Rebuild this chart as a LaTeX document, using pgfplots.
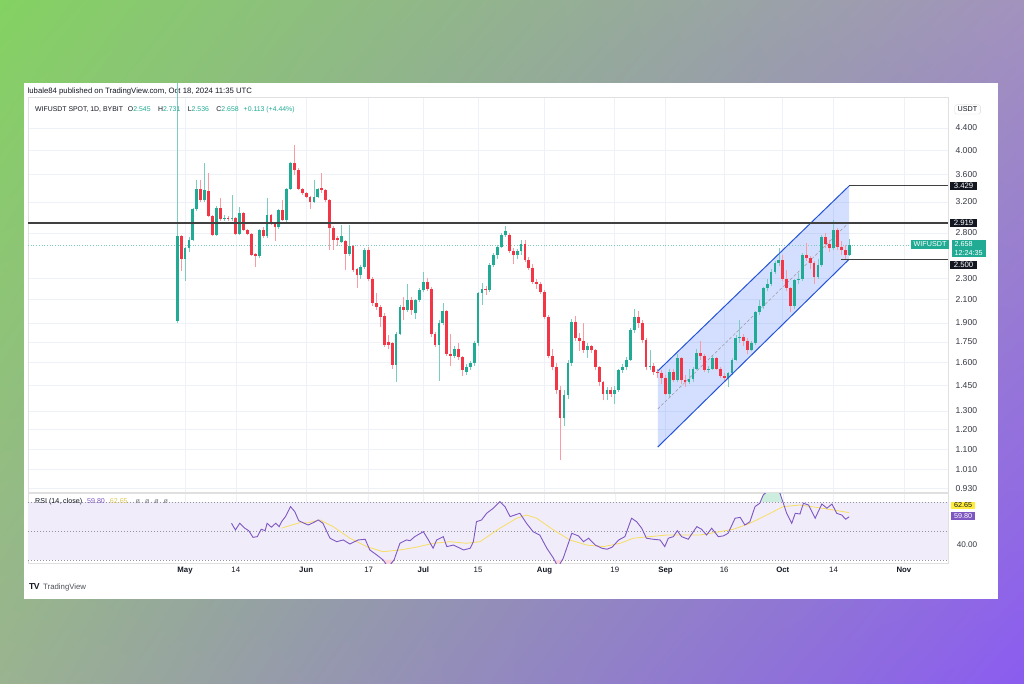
\documentclass[border=0pt]{standalone}
\usepackage{pgfplots}
\pgfplotsset{compat=1.18}
\usepackage{pgfplotstable}
\usetikzlibrary{shadings}
\usepackage{fontspec}
\setmainfont{Liberation Sans}

\definecolor{bgTL}{RGB}{132,210,98}
\definecolor{bgTR}{RGB}{162,146,190}
\definecolor{bgBL}{RGB}{154,179,144}
\definecolor{bgBR}{RGB}{139,92,240}
\definecolor{tvgreen}{RGB}{34,171,148}
\definecolor{tvred}{RGB}{242,54,69}
\definecolor{tvtext}{RGB}{19,23,34}
\definecolor{tvgray}{RGB}{120,123,134}
\definecolor{gridc}{RGB}{238,241,247}
\definecolor{chanblue}{RGB}{41,98,255}
\definecolor{rsiline}{RGB}{126,87,194}
\definecolor{rsima}{RGB}{247,222,98}
\definecolor{rsiband}{RGB}{241,236,250}
\definecolor{obfill}{RGB}{205,238,222}
\definecolor{osfill}{RGB}{250,215,220}
\definecolor{yellowbox}{RGB}{255,235,59}

\newcommand\fs[1]{\fontsize{#1}{#1}\selectfont}

\pgfplotsset{
  upwick/.style={tvgreen!60, line width=0.7pt},
  downwick/.style={tvred!50, line width=0.7pt},
  upbody/.style={tvgreen, line width=2.8pt},
  downbody/.style={tvred, line width=2.8pt},
}

% daily candles, d = days after 1 May 2024
\pgfplotstableread{
d o h l c
-2 1.915 5.35 1.90 2.765
0 2.50 2.63 2.28 2.62
1 2.62 2.75 2.58 2.72
2 2.72 3.12 2.70 3.10
3 3.10 3.51 3.08 3.385
5 3.22 3.78 3.20 3.37
8 2.78 3.14 2.76 3.12
10 2.97 3.02 2.95 2.99
12 2.97 3.30 2.95 2.99
14 2.79 3.13 2.77 3.05
19 2.53 2.85 2.51 2.835
21 2.757 3.25 2.74 3.02
24 2.87 3.10 2.85 3.09
26 2.96 3.40 2.94 3.385
27 3.385 3.80 3.37 3.778
33 3.20 3.52 3.18 3.27
34 3.27 3.40 3.25 3.385
40 2.695 2.90 2.68 2.765
42 2.56 2.90 2.53 2.65
45 2.34 2.44 2.30 2.42
46 2.42 2.62 2.40 2.60
54 1.585 1.83 1.475 1.815
55 1.815 2.05 1.80 2.037
57 2.008 2.25 1.99 2.10
59 1.98 2.11 1.93 2.096
60 2.096 2.21 2.08 2.19
61 2.19 2.37 2.17 2.27
65 1.73 1.92 1.48 1.90
66 1.90 2.07 1.88 2.00
69 1.65 1.72 1.63 1.70
72 1.54 1.59 1.52 1.57
73 1.57 1.61 1.55 1.595
74 1.595 1.76 1.58 1.74
75 1.74 2.17 1.72 2.157
76 2.157 2.26 2.05 2.20
78 2.185 2.46 2.17 2.44
79 2.44 2.57 2.42 2.55
80 2.55 2.66 2.50 2.64
81 2.64 2.80 2.62 2.78
82 2.78 2.88 2.75 2.82
85 2.55 2.61 2.50 2.59
86 2.59 2.715 2.55 2.67
97 1.26 1.42 1.22 1.39
98 1.39 1.62 1.37 1.60
99 1.60 1.93 1.58 1.91
103 1.69 1.74 1.63 1.72
108 1.40 1.44 1.36 1.42
110 1.40 1.45 1.34 1.42
111 1.42 1.56 1.41 1.55
112 1.55 1.59 1.53 1.57
113 1.57 1.64 1.55 1.62
114 1.62 1.86 1.61 1.84
115 1.84 2.02 1.82 1.95
119 1.57 1.69 1.55 1.58
124 1.40 1.56 1.38 1.54
126 1.485 1.66 1.47 1.63
129 1.475 1.56 1.46 1.49
130 1.49 1.57 1.47 1.56
131 1.56 1.70 1.55 1.67
134 1.55 1.58 1.53 1.56
135 1.56 1.65 1.55 1.63
139 1.50 1.54 1.44 1.53
140 1.53 1.63 1.52 1.62
141 1.62 1.80 1.61 1.78
142 1.78 1.92 1.74 1.79
145 1.69 1.76 1.68 1.74
146 1.74 2.00 1.73 1.99
147 1.99 2.10 1.97 2.04
148 2.04 2.22 2.02 2.205
149 2.205 2.30 2.18 2.25
150 2.25 2.40 2.23 2.37
151 2.37 2.48 2.35 2.455
152 2.455 2.62 2.43 2.49
156 2.04 2.30 2.02 2.285
157 2.285 2.36 2.25 2.30
158 2.30 2.57 2.28 2.55
162 2.32 2.50 2.30 2.44
163 2.44 2.78 2.42 2.75
166 2.62 2.96 2.60 2.835
170 2.545 2.731 2.536 2.658
}\upcandles

\pgfplotstableread{
d o h l c
-1 2.765 2.78 2.38 2.50
4 3.385 3.51 3.20 3.22
6 3.35 3.62 3.00 3.01
7 3.01 3.03 2.76 2.78
9 3.12 3.25 2.95 2.97
11 2.99 3.01 2.95 2.97
13 2.99 3.00 2.77 2.79
15 3.05 3.07 2.82 2.835
16 2.835 2.85 2.77 2.79
17 2.79 2.80 2.53 2.55
18 2.56 2.57 2.42 2.53
20 2.835 2.87 2.74 2.757
22 3.02 3.04 2.90 2.92
23 2.92 2.94 2.70 2.87
25 3.09 3.226 2.95 2.96
28 3.778 4.09 3.60 3.67
29 3.67 3.70 3.37 3.385
30 3.385 3.40 3.30 3.32
31 3.32 3.34 3.25 3.27
32 3.27 3.28 3.10 3.20
35 3.40 3.62 3.33 3.37
36 3.37 3.38 3.20 3.226
37 3.226 3.24 2.60 2.86
38 2.86 2.89 2.60 2.715
39 2.74 2.76 2.65 2.715
41 2.70 2.72 2.39 2.56
43 2.65 2.66 2.37 2.386
44 2.40 2.41 2.21 2.34
47 2.60 2.63 2.28 2.30
48 2.30 2.32 2.04 2.066
49 2.066 2.16 2.01 2.03
50 2.03 2.05 1.87 1.95
51 1.96 1.98 1.71 1.73
52 1.75 1.80 1.70 1.73
53 1.74 1.75 1.56 1.585
56 2.037 2.12 1.92 2.008
58 2.10 2.12 1.97 2.008
62 2.27 2.31 2.18 2.20
63 2.20 2.22 1.79 1.81
64 1.81 1.83 1.71 1.73
67 2.00 2.01 1.65 1.665
68 1.665 1.81 1.58 1.65
70 1.70 1.74 1.62 1.64
71 1.64 1.65 1.51 1.55
77 2.20 2.23 2.14 2.185
83 2.78 2.80 2.57 2.59
84 2.59 2.62 2.45 2.55
87 2.67 2.72 2.47 2.49
88 2.49 2.52 2.39 2.41
89 2.41 2.45 2.25 2.27
90 2.27 2.30 2.20 2.25
91 2.25 2.27 2.15 2.17
92 2.17 2.19 1.93 1.95
93 1.95 1.97 1.63 1.65
94 1.65 1.70 1.55 1.57
95 1.57 1.60 1.40 1.42
96 1.42 1.45 1.05 1.26
100 1.91 1.96 1.76 1.78
101 1.78 1.82 1.68 1.76
102 1.76 1.90 1.67 1.69
104 1.72 1.73 1.67 1.69
105 1.69 1.70 1.55 1.57
106 1.57 1.58 1.45 1.47
107 1.47 1.48 1.36 1.40
109 1.42 1.44 1.38 1.40
116 1.95 2.00 1.86 1.90
117 1.90 1.92 1.74 1.764
118 1.764 1.78 1.55 1.57
120 1.58 1.60 1.52 1.54
121 1.54 1.56 1.50 1.53
122 1.53 1.55 1.46 1.50
123 1.50 1.52 1.39 1.40
125 1.54 1.56 1.47 1.485
127 1.63 1.64 1.46 1.485
128 1.485 1.52 1.44 1.475
132 1.67 1.76 1.62 1.645
133 1.645 1.66 1.54 1.55
136 1.63 1.64 1.55 1.56
137 1.56 1.57 1.50 1.51
138 1.51 1.53 1.48 1.50
143 1.79 1.81 1.72 1.76
144 1.76 1.78 1.66 1.69
153 2.49 2.55 2.28 2.30
154 2.30 2.39 2.18 2.205
155 2.205 2.22 1.99 2.04
159 2.55 2.68 2.48 2.51
160 2.51 2.53 2.40 2.46
161 2.46 2.48 2.25 2.32
164 2.75 2.80 2.62 2.67
165 2.67 2.72 2.58 2.62
167 2.835 2.86 2.60 2.64
168 2.64 2.70 2.55 2.60
169 2.60 2.66 2.50 2.545
}\downcandles

\pgfplotstableread{
d v
11.9 55.3
12.9 50.7
14.0 55.3
15.3 51.9
16.3 50.2
17.4 45.6
18.5 46.1
19.5 51.2
20.5 50.2
21.0 55.3
22.1 52.6
23.2 55.3
24.1 53.0
24.7 56.4
25.7 59.9
27.0 66.8
28.1 63.3
29.1 57.1
30.2 55.7
31.5 54.1
32.8 55.7
34.1 57.6
35.3 55.3
37.1 45.0
38.8 42.6
40.5 43.8
42.2 41.0
44.3 43.8
46.1 44.3
47.3 36.9
49.1 33.4
50.7 30.0
52.0 25.0
53.5 30.0
55.0 41.5
56.7 43.8
57.6 43.3
58.8 46.1
61.0 49.5
62.3 43.8
63.5 38.1
64.4 43.8
66.1 46.1
67.0 39.2
68.7 40.3
71.3 36.9
73.0 38.1
73.8 42.6
74.6 56.4
75.9 57.6
77.2 62.2
78.9 65.7
80.6 70.2
81.9 66.8
83.2 59.9
85.7 62.2
87.4 55.3
89.1 49.5
90.8 47.2
92.6 38.1
94.3 31.2
95.5 25.0
96.8 31.2
99.0 48.4
100.7 46.6
102.0 42.6
103.3 45.0
105.0 40.3
106.7 38.1
108.0 37.4
109.3 38.8
111.0 43.8
112.6 46.1
114.3 58.8
115.6 56.4
116.9 51.9
118.1 45.0
119.8 44.3
121.6 43.8
122.8 39.2
123.7 45.0
125.0 46.1
126.0 50.2
127.1 46.1
128.8 44.3
131.0 53.0
132.2 51.2
133.5 47.2
134.8 51.9
136.5 46.1
137.8 46.6
139.0 48.4
140.8 58.8
142.1 59.4
143.3 54.1
144.6 56.4
145.9 66.8
147.1 69.1
148.0 74.8
149.3 78.0
151.4 79.0
152.3 76.0
154.0 62.2
155.3 55.3
156.2 62.2
157.4 61.7
158.3 69.1
159.6 67.9
161.3 58.8
163.0 68.6
164.3 65.7
165.6 68.6
166.8 62.2
168.1 61.0
169.1 58.1
170.0 59.8
}\rsitab

\pgfplotstableread{
d v
24.7 51.9
27.3 54.1
29.4 55.7
31.5 55.7
34.5 57.6
37.9 53.0
42.2 45.0
46.5 39.2
50.7 35.7
55.0 36.9
59.2 38.8
63.5 41.5
67.8 42.6
72.1 41.5
75.5 42.6
80.6 51.9
84.9 58.8
87.4 61.0
90.0 58.8
94.3 50.7
98.5 43.8
102.8 40.3
107.1 39.2
111.4 41.5
114.7 45.0
123.3 47.2
131.9 47.2
140.4 51.2
144.6 55.3
148.9 61.0
153.1 66.8
157.4 67.9
161.6 66.3
165.9 64.5
170.0 62.65
}\matab

% one wick and one body per table row
\newcommand\candles[3]{%
  \pgfplotstablegetrowsof{#1}%
  \pgfmathtruncatemacro\candN{\pgfplotsretval-1}%
  \pgfplotsforeachungrouped \i in {0,...,\candN}{%
    \pgfplotstablegetelem{\i}{d}\of#1\let\candD\pgfplotsretval
    \pgfplotstablegetelem{\i}{o}\of#1\let\candO\pgfplotsretval
    \pgfplotstablegetelem{\i}{h}\of#1\let\candH\pgfplotsretval
    \pgfplotstablegetelem{\i}{l}\of#1\let\candL\pgfplotsretval
    \pgfplotstablegetelem{\i}{c}\of#1\let\candC\pgfplotsretval
    \edef\temp{\noexpand\addplot[#2] coordinates {(\candD,\candL) (\candD,\candH)};
      \noexpand\addplot[#3] coordinates {(\candD,\candO) (\candD,\candC)};}%
    \temp
  }%
}

\begin{document}
\begin{tikzpicture}
\shade[upper left=bgTL, upper right=bgTR, lower left=bgBL, lower right=bgBR] (0pt,0pt) rectangle (1024pt,683pt);
\fill[white] (23.5pt,84.5pt) rectangle (998pt,599.5pt);

\node[anchor=west, inner sep=0, font=\fs{7.75}, text=tvtext] at (27.5pt,591pt) {lubale84 published on TradingView.com, Oct 18, 2024 11:35 UTC};

% price pane
\begin{axis}[
  at={(28pt,191pt)}, anchor=south west,
  scale only axis, width=920pt, height=395pt,
  xmin=-40.2, xmax=195.3,
  ymode=log, ymin=0.9166, ymax=5.029,
  clip=false,
  axis line style={draw=black!12},
  xtick={0,13,31,47,61,75,92,110,123,138,153,166,184},
  xticklabels={},
  ytick={0.93,1.01,1.1,1.2,1.3,1.45,1.6,1.75,1.9,2.1,2.3,2.8,3.2,3.6,4.0,4.4},
  yticklabels={0.930,1.010,1.100,1.200,1.300,1.450,1.600,1.750,1.900,2.100,2.300,2.800,3.200,3.600,4.000,4.400},
  yticklabel pos=right,
  yticklabel style={font=\fs{8.6}, text=tvtext!85, anchor=west, xshift=4pt},
  major tick length=0pt, minor tick length=0pt,
  grid=major, major grid style={draw=gridc, line width=0.6pt},
]
% ascending channel
\addplot[draw=none, fill=chanblue, fill opacity=0.2] coordinates {(121,1.544) (170,3.429) (170,2.50) (121,1.1125)} -- cycle;
\addplot[black!40, densely dashed, line width=0.5pt] coordinates {(121,1.311) (170,2.93)};
\addplot[tvgreen!60, dotted, line width=0.7pt] coordinates {(-40.2,2.658) (195.3,2.658)};

\candles{\upcandles}{upwick}{upbody}
\candles{\downcandles}{downwick}{downbody}

\addplot[chanblue!85!black, line width=1pt] coordinates {(121,1.544) (170,3.429)};
\addplot[chanblue!85!black, line width=1pt] coordinates {(121,1.1125) (170,2.50)};
\addplot[black!75, line width=1.6pt] coordinates {(-40.2,2.919) (195.3,2.919)};
\addplot[black!75, line width=1.1pt] coordinates {(170,3.429) (195.3,3.429)};
\addplot[black!75, line width=1.1pt] coordinates {(168,2.50) (195.3,2.50)};
\end{axis}

% rsi pane
\begin{axis}[
  at={(28pt,120pt)}, anchor=south west,
  scale only axis, width=920pt, height=70pt,
  xmin=-40.2, xmax=195.3, ymin=27.9, ymax=76.2,
  axis line style={draw=black!12},
  xtick={0,13,31,47,61,75,92,110,123,138,153,166,184},
  xticklabels={\textbf{May},14,\textbf{Jun},17,\textbf{Jul},15,\textbf{Aug},19,\textbf{Sep},16,\textbf{Oct},14,\textbf{Nov}},
  xticklabel style={font=\fs{7.8}, text=tvtext, text height=5.8pt, text depth=1.6pt, yshift=-0.5pt},
  ytick=\empty,
  major tick length=0pt,
  xmajorgrids, major grid style={draw=gridc},
]
\addplot[draw=none, fill=rsiband] coordinates {(-40.2,30) (195.3,30) (195.3,70) (-40.2,70)} -- cycle;
\addplot[tvgray!80, dash pattern=on 1.2pt off 1.8pt, line width=0.5pt] coordinates {(-40.2,70) (195.3,70)};
\addplot[tvgray!80, dash pattern=on 1.2pt off 1.8pt, line width=0.5pt] coordinates {(-40.2,50) (195.3,50)};
\addplot[tvgray!80, dash pattern=on 1.2pt off 1.8pt, line width=0.5pt] coordinates {(-40.2,30) (195.3,30)};
\addplot[draw=none, fill=obfill] coordinates {(147.24,70) (148,74.8) (149.3,78) (151.4,79) (152.3,76) (153.0,70)} -- cycle;
\addplot[draw=none, fill=osfill] coordinates {(50.7,30) (52,25) (53.5,30)} -- cycle;
\addplot[draw=none, fill=osfill] coordinates {(94.7,30) (95.5,25) (96.6,30)} -- cycle;
\addplot[rsima, line width=0.8pt] table[x=d, y=v] {\matab};
\addplot[rsiline, line width=0.9pt] table[x=d, y=v] {\rsitab};
\end{axis}

% legend texts
\node[anchor=west, inner sep=0, font=\fs{6.9}, text=tvtext] at (35pt,573pt)
  {WIFUSDT SPOT, 1D, BYBIT\hspace{5pt}O\textcolor{tvgreen}{2.545}\hspace{7.5pt}H\textcolor{tvgreen}{2.731}\hspace{7.5pt}L\textcolor{tvgreen}{2.536}\hspace{7.5pt}C\textcolor{tvgreen}{2.658}\hspace{5pt}\textcolor{tvgreen}{+0.113 (+4.44\%)}};
\node[anchor=west, inner sep=0, font=\fs{7.1}, text=tvtext] at (35pt,181pt)
  {RSI (14, close)\hspace{5pt}\textcolor{rsiline}{59.80}\hspace{5pt}\textcolor{rsima!90!black}{62.65}\hspace{8pt}\textcolor{tvgray}{ø\hspace{5pt}ø\hspace{5pt}ø\hspace{5pt}ø}};

% price scale labels
\node[draw=black!15, rounded corners=1.5pt, inner xsep=3pt, inner ysep=2pt, font=\fs{7.2}, text=tvtext] at (967.5pt,573.5pt) {USDT};
\node[fill=tvtext, text=white, inner xsep=3.5pt, inner ysep=1.6pt, font=\fs{7.8}] at (963.5pt,497pt) {3.429};
\node[fill=tvtext, text=white, inner xsep=3.5pt, inner ysep=1.6pt, font=\fs{7.8}] at (963.5pt,460pt) {2.919};
\node[fill=tvtext, text=white, inner xsep=3.5pt, inner ysep=1.6pt, font=\fs{7.8}] at (963.5pt,418pt) {2.500};
\node[fill=tvgreen, text=white, inner xsep=2.5pt, inner ysep=1.6pt, font=\fs{7.2}] at (930pt,438.5pt) {WIFUSDT};
\node[fill=tvgreen, text=white, inner xsep=3pt, inner ysep=1.6pt, font=\fs{7.2}, align=left] at (968.5pt,434.5pt) {2.658\\[1pt]12:24:35};
\node[fill=yellowbox, text=tvtext, inner xsep=3pt, inner ysep=1.4pt, font=\fs{7.2}] at (963pt,177.5pt) {62.65};
\node[fill=rsiline, text=white, inner xsep=3pt, inner ysep=1.4pt, font=\fs{7.2}] at (963pt,167pt) {59.80};
\node[font=\fs{8.2}, text=tvtext!85] at (967pt,138pt) {40.00};

% logo
\node[anchor=west, inner sep=0, font=\fs{8.6}, text=tvtext] at (29pt,96pt) {\textbf{T\kern-0.6pt V}};
\node[anchor=west, inner sep=0, font=\fs{7.8}, text=tvtext!75] at (43pt,96pt) {TradingView};
\end{tikzpicture}
\end{document}
